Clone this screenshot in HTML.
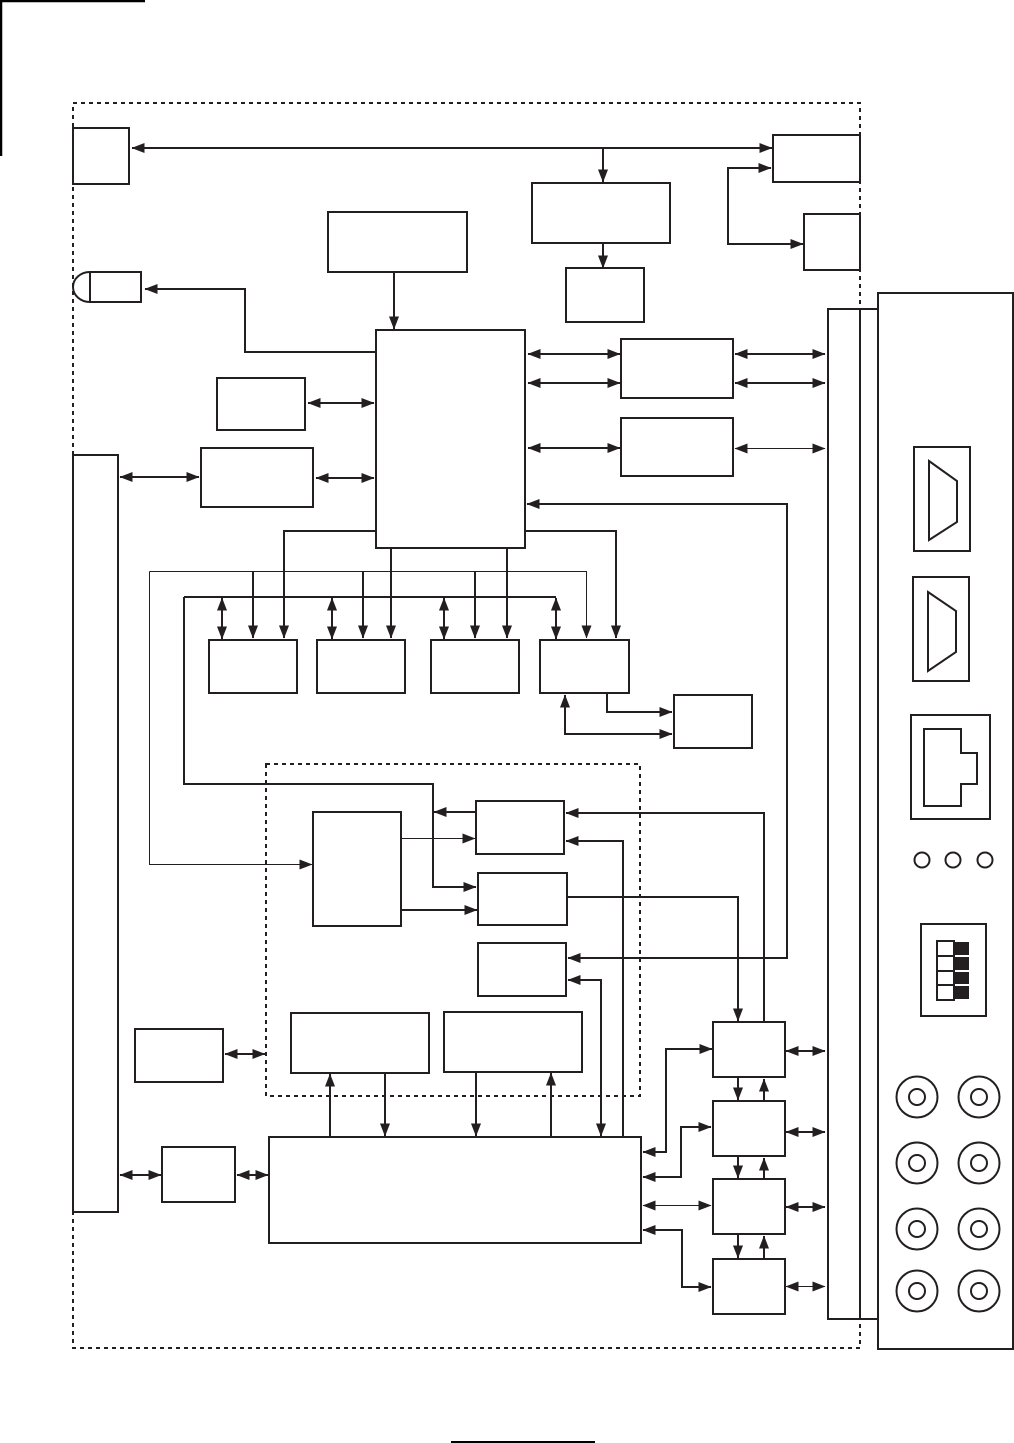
<!DOCTYPE html>
<html><head><meta charset="utf-8"><style>html,body{margin:0;padding:0;background:#fff}svg{display:block}</style></head><body>
<svg xmlns="http://www.w3.org/2000/svg" width="1014" height="1443" viewBox="0 0 1014 1443">
<defs><marker id="a" markerUnits="userSpaceOnUse" markerWidth="13" markerHeight="11" viewBox="0 0 13 11" refX="12.5" refY="5.5" orient="auto-start-reverse"><path d="M0,.5L13,5.5L0,10.5z" fill="#231f20"/></marker></defs>
<path d="M0,1H145M1,0V156" fill="none" stroke="#000" stroke-width="2.5"/>
<path d="M451,1442H595" stroke="#000" stroke-width="2"/>
<g fill="none" stroke="#231f20" stroke-width="2" stroke-dasharray="4 4">
<rect x="73" y="103" width="787" height="1245"/>
<rect x="266" y="764" width="374" height="332"/>
</g>
<g fill="#fff" stroke="#231f20" stroke-width="2">
<rect x="73" y="128" width="56" height="56"/>
<rect x="773" y="135" width="87" height="47"/>
<rect x="532" y="183" width="138" height="60"/>
<rect x="804" y="214" width="56" height="56"/>
<rect x="328" y="212" width="139" height="60"/>
<rect x="566" y="268" width="78" height="54"/>
<path d="M90,272A17,15 0 0 0 90,302H141V272Z"/>
<path d="M90,272V302"/>
<rect x="376" y="330" width="149" height="218"/>
<rect x="621" y="339" width="112" height="59"/>
<rect x="621" y="418" width="112" height="58"/>
<rect x="217" y="378" width="88" height="52"/>
<rect x="201" y="448" width="112" height="59"/>
<rect x="73" y="455" width="45" height="757"/>
<rect x="209" y="640" width="88" height="53"/>
<rect x="317" y="640" width="88" height="53"/>
<rect x="431" y="640" width="88" height="53"/>
<rect x="540" y="640" width="89" height="53"/>
<rect x="674" y="695" width="78" height="53"/>
<rect x="313" y="812" width="88" height="114"/>
<rect x="476" y="801" width="88" height="53"/>
<rect x="478" y="873" width="89" height="52"/>
<rect x="478" y="943" width="88" height="53"/>
<rect x="291" y="1013" width="138" height="60"/>
<rect x="444" y="1012" width="138" height="60"/>
<rect x="135" y="1029" width="88" height="53"/>
<rect x="269" y="1137" width="372" height="106"/>
<rect x="162" y="1147" width="73" height="55"/>
<rect x="713" y="1022" width="72" height="55"/>
<rect x="713" y="1101" width="72" height="55"/>
<rect x="713" y="1179" width="72" height="55"/>
<rect x="713" y="1259" width="72" height="55"/>
<rect x="828" y="309" width="32" height="1010"/>
<rect x="878" y="293" width="135" height="1056"/>
<path d="M860,309H878M860,1319H878" fill="none"/>
<rect x="914" y="447" width="56" height="104"/>
<path d="M929,461L957,481V522L929,540Z"/>
<rect x="913" y="577" width="56" height="104"/>
<path d="M928,592L956,611V652L928,671Z"/>
<rect x="911" y="715" width="79" height="104"/>
<path d="M924,729H961V753H977V784H961V806H924Z"/>
<circle cx="922" cy="860" r="7.500"/>
<circle cx="953" cy="860" r="7.500"/>
<circle cx="985" cy="860" r="7.500"/>
<rect x="921" y="924" width="65" height="92"/>
<rect x="937" y="941" width="17" height="59"/>
<path d="M937,956H954M937,971H954M937,985H954" fill="none"/>
</g>
<g fill="#231f20"><rect x="954" y="942" width="15" height="13"/><rect x="954" y="957" width="15" height="13"/><rect x="954" y="972" width="15" height="12"/><rect x="954" y="986" width="15" height="13"/></g>
<g fill="none" stroke="#231f20" stroke-width="2">
<circle cx="917" cy="1097" r="20.500"/><circle cx="917" cy="1097" r="8"/>
<circle cx="979" cy="1097" r="20.500"/><circle cx="979" cy="1097" r="8"/>
<circle cx="917" cy="1163" r="20.500"/><circle cx="917" cy="1163" r="8"/>
<circle cx="979" cy="1163" r="20.500"/><circle cx="979" cy="1163" r="8"/>
<circle cx="917" cy="1229" r="20.500"/><circle cx="917" cy="1229" r="8"/>
<circle cx="979" cy="1229" r="20.500"/><circle cx="979" cy="1229" r="8"/>
<circle cx="917" cy="1291" r="20.500"/><circle cx="917" cy="1291" r="8"/>
<circle cx="979" cy="1291" r="20.500"/><circle cx="979" cy="1291" r="8"/>
</g>
<!-- thin connectors -->
<g fill="none" stroke="#231f20" stroke-width="1" marker-end="url(#a)">
<path d="M149.500,571.500V864.500H312"/>
<path d="M401,838.500H475"/>
<path d="M735,448.500H825" marker-start="url(#a)"/>
<path d="M643,1205.500H711" marker-start="url(#a)"/>
<path d="M786,1286.500H825" marker-start="url(#a)"/>
<path d="M149.500,571.500H586.500V638"/>
</g>
<!-- double-headed -->
<g fill="none" stroke="#231f20" stroke-width="2" marker-start="url(#a)" marker-end="url(#a)">
<path d="M132,148H772"/>
<path d="M771,168H728V244H803"/>
<path d="M528,354H620"/>
<path d="M528,383H620"/>
<path d="M528,448H620"/>
<path d="M735,354H825"/>
<path d="M735,383H825"/>
<path d="M308,403H374"/>
<path d="M316,478H374"/>
<path d="M120,477H199"/>
<path d="M568,958H787V504H527"/>
<path d="M222,598V639"/>
<path d="M332,598V639"/>
<path d="M444,598V639"/>
<path d="M556,598V639"/>
<path d="M565,695V734H672"/>
<path d="M568,980H601V1136"/>
<path d="M225,1054H265"/>
<path d="M120,1175H161"/>
<path d="M237,1175H268"/>
<path d="M643,1152H666V1049H712"/>
<path d="M643,1177H681V1127H711"/>
<path d="M643,1230H682V1287H711"/>
<path d="M786,1051H825"/>
<path d="M786,1132H825"/>
<path d="M786,1207H825"/>
</g>
<!-- single-headed -->
<g fill="none" stroke="#231f20" stroke-width="2" marker-end="url(#a)">
<path d="M603,148V182"/>
<path d="M603,243V268"/>
<path d="M394,272V329"/>
<path d="M375,352H245V289H145"/>
<path d="M376,531H284V638"/>
<path d="M391,548V638"/>
<path d="M507,548V638"/>
<path d="M525,531H616V638"/>
<path d="M253,571V638"/>
<path d="M363,571V638"/>
<path d="M475,571V638"/>
<path d="M184,597V784H433V887H476"/>
<path d="M476,812H434"/>
<path d="M607,693V712H672"/>
<path d="M401,910H477"/>
<path d="M764,1022V813H566"/>
<path d="M623,1137V841H566"/>
<path d="M567,897H738V1021"/>
<path d="M330,1137V1074"/>
<path d="M385,1073V1136"/>
<path d="M476,1072V1136"/>
<path d="M551,1137V1073"/>
<path d="M738,1077V1100"/>
<path d="M764,1101V1079"/>
<path d="M738,1156V1178"/>
<path d="M764,1179V1158"/>
<path d="M738,1234V1258"/>
<path d="M764,1259V1236"/>
</g>
<path d="M184,597H556" fill="none" stroke="#231f20" stroke-width="2"/>
</svg>
</body></html>
